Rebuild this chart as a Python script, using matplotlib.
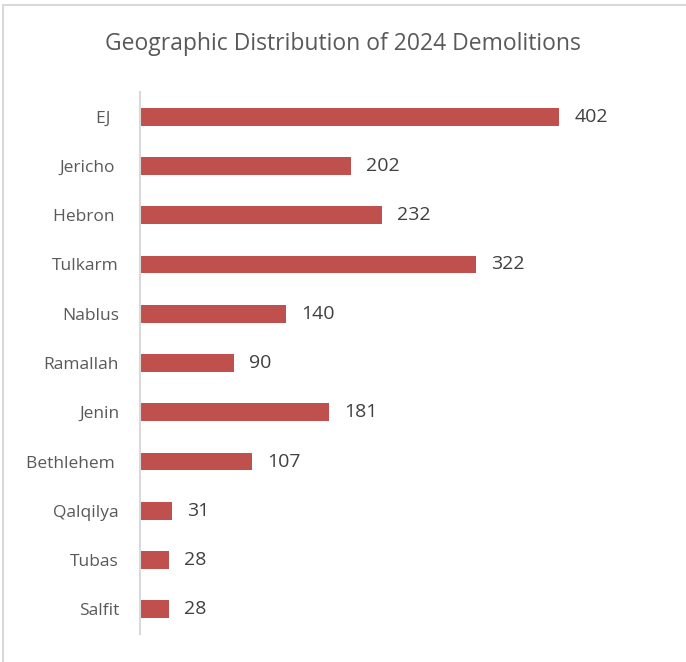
import matplotlib.pyplot as plt
from matplotlib.patches import Rectangle

regions = ["EJ  ", "Jericho ", "Hebron ", "Tulkarm", "Nablus", "Ramallah",
           "Jenin", "Bethlehem ", "Qalqilya", "Tubas", "Salfit"]
demolitions = [402, 202, 232, 322, 140, 90, 181, 107, 31, 28, 28]

plt.rcParams['font.family'] = ['Open Sans', 'DejaVu Sans']

fig = plt.figure(figsize=(6.86, 6.62), dpi=100)
ax = fig.add_axes([0.204, 1 - 634 / 662, 0.684, 542 / 662])

# chart border (Excel style frame)
fig.patches.append(Rectangle((3 / 686, -0.1), 1.2, 1.1 - 5 / 662, transform=fig.transFigure,
                             fill=False, edgecolor="#d9d9d9", linewidth=1.5))

y = list(range(len(regions)))
ax.barh(y, demolitions, height=0.36, color="#c0504d")
ax.set_ylim(10.5, -0.5)
ax.set_xlim(0, 450)
ax.set_yticks(y)
ax.set_yticklabels(regions, fontsize=12.5, color="#595959")
ax.tick_params(axis="y", length=0, pad=15)
ax.set_xticks([])

for s in ["top", "right", "bottom"]:
    ax.spines[s].set_visible(False)
ax.spines["left"].set_color("#d9d9d9")
ax.spines["left"].set_linewidth(1.5)

for yi, v in zip(y, demolitions):
    ax.annotate(str(v), (v, yi), xytext=(11, 0), textcoords="offset points",
                va="center", ha="left", fontsize=14, color="#404040")

fig.text(0.5, 1 - 44 / 662, "Geographic Distribution of 2024 Demolitions",
         ha="center", va="center", fontsize=16.5, color="#595959")

fig.savefig("out.png", dpi=100)
